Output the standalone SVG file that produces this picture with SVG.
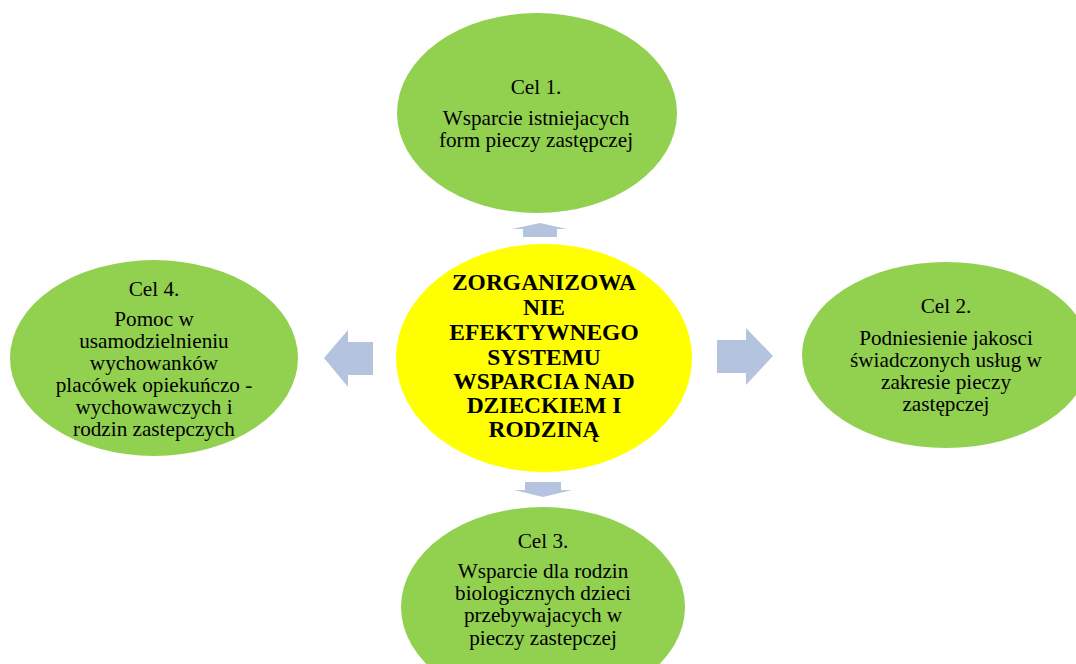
<svg xmlns="http://www.w3.org/2000/svg" width="1076" height="664" viewBox="0 0 1076 664">
<style>
.goal{fill:#92D050;}
.core{fill:#FFFF00;}
.arr{fill:#B4C4DE;}
.t{font-family:"Liberation Serif","Times New Roman",serif;font-size:21.2px;fill:#000;text-anchor:middle;}
.b{font-family:"Liberation Serif","Times New Roman",serif;font-size:23.5px;font-weight:bold;fill:#000;text-anchor:middle;}
</style>
<rect width="1076" height="664" fill="#FFFFFF"/>
<g id="connectors">
<polygon class="arr" points="540,223 567,229 557,229 557,237 523,237 523,229 512,229"/>
<polygon class="arr" points="717,340 746,340 746,328 773,356 746,385 746,373 717,373"/>
<polygon class="arr" points="525,482 561,482 561,490 572,490 543,497 514,490 525,490"/>
<polygon class="arr" points="324,358 348,330 348,342 373,342 373,375 348,375 348,387"/>
</g>
<g id="cel1">
<ellipse class="goal" cx="537" cy="113" rx="140" ry="100"/>
<text class="t" x="536" y="94">Cel 1.</text>
<text class="t" x="536" y="125">Wsparcie istniejacych</text>
<text class="t" x="536" y="147">form pieczy zastępczej</text>
</g>
<g id="center">
<ellipse class="core" cx="544" cy="358" rx="148" ry="114"/>
<text class="b" x="544" y="290">ZORGANIZOWA</text>
<text class="b" x="544" y="315">NIE</text>
<text class="b" x="544" y="340">EFEKTYWNEGO</text>
<text class="b" x="544" y="365">SYSTEMU</text>
<text class="b" x="544" y="389">WSPARCIA NAD</text>
<text class="b" x="544" y="413">DZIECKIEM I</text>
<text class="b" x="544" y="437">RODZINĄ</text>
</g>
<g id="cel2">
<ellipse class="goal" cx="946" cy="355" rx="144" ry="93"/>
<text class="t" x="946" y="313">Cel 2.</text>
<text class="t" x="946" y="345">Podniesienie jakosci</text>
<text class="t" x="946" y="367">świadczonych usług w</text>
<text class="t" x="946" y="389">zakresie pieczy</text>
<text class="t" x="946" y="411">zastępczej</text>
</g>
<g id="cel3">
<ellipse class="goal" cx="543" cy="607" rx="142" ry="100"/>
<text class="t" x="543" y="548">Cel 3.</text>
<text class="t" x="543" y="578">Wsparcie dla rodzin</text>
<text class="t" x="543" y="600">biologicznych dzieci</text>
<text class="t" x="543" y="622">przebywajacych w</text>
<text class="t" x="543" y="645">pieczy zastepczej</text>
</g>
<g id="cel4">
<ellipse class="goal" cx="154" cy="358" rx="144" ry="98"/>
<text class="t" x="154" y="296">Cel 4.</text>
<text class="t" x="154" y="326">Pomoc w</text>
<text class="t" x="154" y="348">usamodzielnieniu</text>
<text class="t" x="154" y="370">wychowanków</text>
<text class="t" x="154" y="392">placówek opiekuńczo -</text>
<text class="t" x="154" y="414">wychowawczych i</text>
<text class="t" x="154" y="436">rodzin zastepczych</text>
</g>
</svg>
